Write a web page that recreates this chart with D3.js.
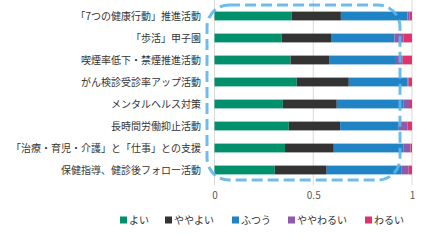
<!DOCTYPE html>
<html><head><meta charset="utf-8">
<script src="https://cdn.jsdelivr.net/npm/d3@7"></script>
<style>body{margin:0;background:#fff;}svg{display:block;}</style>
</head><body>
<script>
const categories = ["「7つの健康行動」推進活動","「歩活」甲子園","喫煙率低下・禁煙推進活動","がん検診受診率アップ活動","メンタルヘルス対策","長時間労働抑止活動","「治療・育児・介護」と「仕事」との支援","保健指導、健診後フォロー活動"];
const seriesNames = ["よい","ややよい","ふつう","ややわるい","わるい"];
const good     = [0.39, 0.34, 0.385, 0.416, 0.346, 0.376, 0.357, 0.305];
const fairGood = [0.25, 0.25, 0.195, 0.264, 0.273, 0.26, 0.247, 0.263];
const normal   = [0.337,0.321,0.334, 0.297, 0.339, 0.297, 0.354, 0.38];
const fairBad  = [0.011,0.047,0.039, 0.005, 0.027, 0.044, 0.034, 0.035];
const bad      = [0.012,0.042,0.047, 0.018, 0.015, 0.023, 0.008, 0.017];
const tickValues = [0, 0.5, 1];
const tickLabels = ["0", "0.5", "1"];
const colors = ["#00906b","#333333","#1f83c4","#8e5bab","#e0336c"];

const W = 427, H = 240;
const svg = d3.select("body").append("svg").attr("width", W).attr("height", H)
  .style("font-family", "'Noto Sans CJK JP', sans-serif");

const x = d3.scaleLinear().domain([0, 1]).range([214.5, 412]);
const y = d3.scaleBand().domain(categories).range([5, 181]).paddingInner(0.6).paddingOuter(0.3);

const gridTop = 0, gridBottom = 185;
svg.append("g").selectAll("line").data(tickValues).join("line")
  .attr("x1", d => x(d)).attr("x2", d => x(d))
  .attr("y1", gridTop).attr("y2", gridBottom)
  .attr("stroke", "#d9d9d9").attr("stroke-width", 1);

const table = categories.map((c, i) => ({cat: c, "よい": good[i], "ややよい": fairGood[i], "ふつう": normal[i], "ややわるい": fairBad[i], "わるい": bad[i]}));
const stack = d3.stack().keys(seriesNames)(table);

svg.append("g").selectAll("g").data(stack).join("g")
  .attr("fill", (d, i) => colors[i])
  .selectAll("rect").data(d => d).join("rect")
  .attr("x", d => x(d[0]))
  .attr("width", d => Math.max(0, x(Math.min(1, d[1])) - x(d[0])))
  .attr("y", d => y(d.data.cat))
  .attr("height", y.bandwidth());

// category labels
svg.append("g").selectAll("text").data(categories).join("text")
  .attr("x", 201).attr("y", d => y(d) + y.bandwidth() / 2)
  .attr("dy", "0.35em").attr("text-anchor", "end")
  .attr("font-size", 10).attr("fill", "#333")
  .text(d => d);

// x axis tick labels
const xAxis = d3.axisBottom(x).tickValues(tickValues).tickFormat((d, i) => tickLabels[i]).tickSize(0).tickPadding(0);
const ax = svg.append("g").attr("transform", "translate(0,192)").call(xAxis);
ax.select(".domain").remove();
ax.selectAll("text").attr("font-size", 10).attr("fill", "#595959").attr("font-family", "'Noto Sans CJK JP', sans-serif");

// highlight dashed rounded box
svg.append("rect")
  .attr("x", 207).attr("y", 5).attr("width", 193).attr("height", 175)
  .attr("rx", 22).attr("ry", 22)
  .attr("fill", "none").attr("stroke", "#5db5e9").attr("stroke-opacity", 0.9)
  .attr("stroke-width", 3).attr("stroke-dasharray", "11,5");

// legend
const legendX = [120, 165, 232, 288, 365];
const lg = svg.append("g").selectAll("g").data(seriesNames).join("g")
  .attr("transform", (d, i) => `translate(${legendX[i]},220)`);
lg.append("rect").attr("x", 0).attr("y", -3.5).attr("width", 7).attr("height", 7)
  .attr("fill", (d, i) => colors[i]);
lg.append("text").attr("x", 9).attr("dy", "0.35em").attr("font-size", 10).attr("fill", "#333").text(d => d);
</script>
</body></html>
